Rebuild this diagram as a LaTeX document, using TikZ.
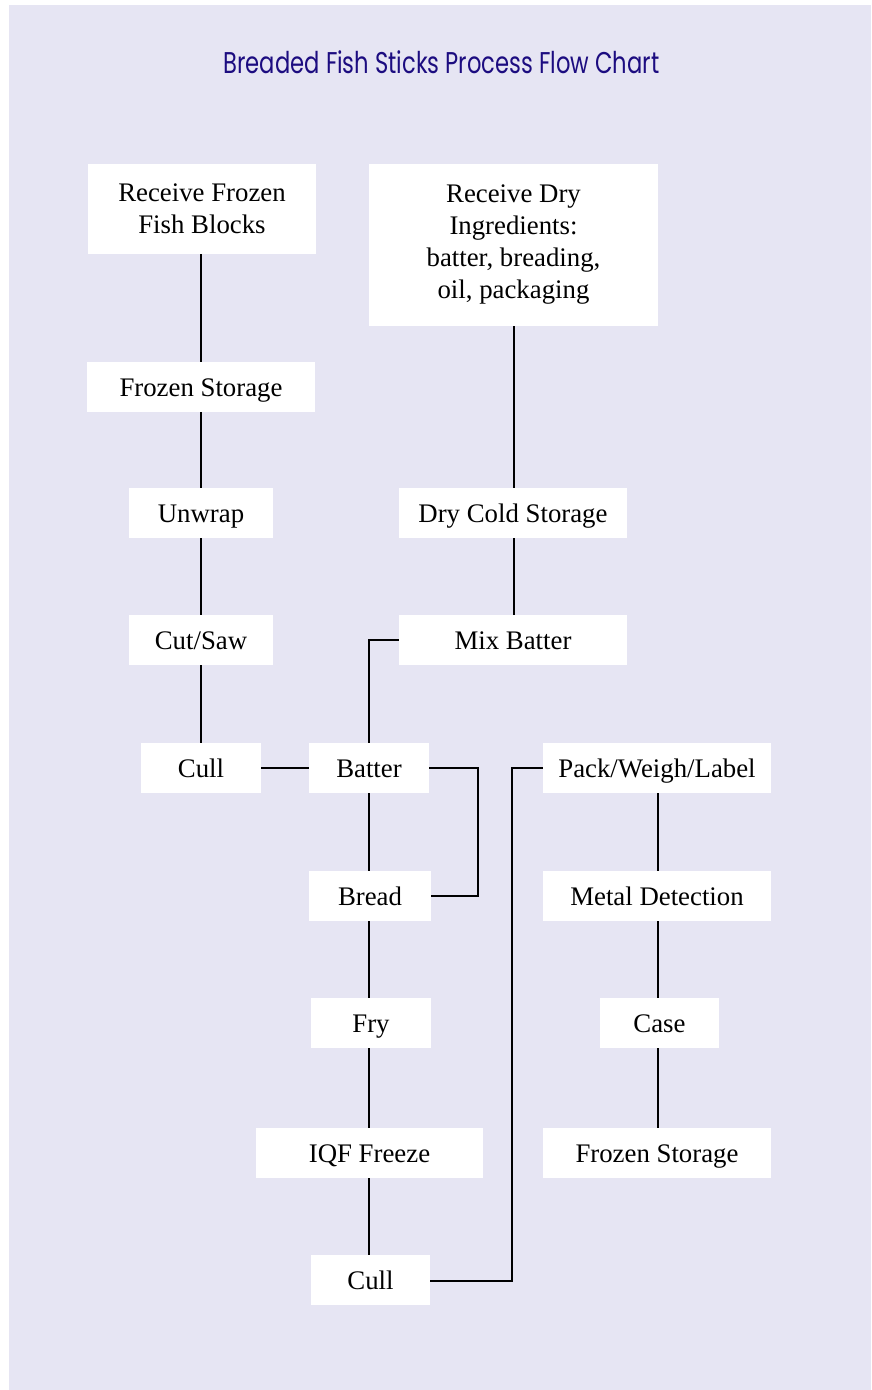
\documentclass[tikz,border=0pt]{standalone}
\usepackage{fontspec}
\setmainfont{Liberation Serif}
\newfontfamily\titlefont{Poppins}
\definecolor{panel}{HTML}{E6E5F3}
\definecolor{titleblue}{HTML}{1C0C80}
\begin{document}
\begin{tikzpicture}[x=1pt,y=-1pt,
  stepbox/.style={fill=white,draw=none,inner sep=0pt,align=center,
    font=\fontsize{26.8}{32}\selectfont,text=black},
  oneline/.style={text height=22pt,text depth=3pt},
  link/.style={draw=black,line width=1.1pt}]
% page and panel
\useasboundingbox (0,0) rectangle (871,1390);
\fill[white] (0,0) rectangle (871,1390);
\fill[panel] (9,5) rectangle (871,1390);
\node[anchor=base,inner sep=0pt,font=\titlefont\fontsize{30}{36}\selectfont,text=titleblue] (title) at (441.5,73)
  {\scalebox{0.755}[1]{Breaded Fish Sticks Process Flow Chart}};
% left column: fish
\node[stepbox,minimum width=228,minimum height=90] (rcv) at (202,209) {Receive Frozen\\Fish Blocks};
\node[stepbox,oneline,minimum width=228,minimum height=50] (fstore) at (201,387) {Frozen Storage};
\node[stepbox,oneline,minimum width=144,minimum height=50] (unwrap) at (201,513) {Unwrap};
\node[stepbox,oneline,minimum width=144,minimum height=50] (cut) at (201,640) {Cut/Saw};
\node[stepbox,oneline,minimum width=120,minimum height=50] (cull) at (201,768) {Cull};
% dry ingredients
\node[stepbox,minimum width=289,minimum height=162] (dry) at (513.5,245) {Receive Dry\\Ingredients:\\batter, breading,\\oil, packaging};
\node[stepbox,oneline,minimum width=228,minimum height=50] (dcs) at (513,513) {Dry Cold Storage};
\node[stepbox,oneline,minimum width=228,minimum height=50] (mix) at (513,640) {Mix Batter};
% centre column
\node[stepbox,oneline,minimum width=120,minimum height=50] (batter) at (369,768) {Batter};
\node[stepbox,oneline,minimum width=122,minimum height=50] (bread) at (370,896) {Bread};
\node[stepbox,oneline,minimum width=120,minimum height=50] (fry) at (371,1023) {Fry};
\node[stepbox,oneline,minimum width=227,minimum height=50] (iqf) at (369.5,1153) {IQF Freeze};
\node[stepbox,oneline,minimum width=119,minimum height=50] (cull2) at (370.5,1280) {Cull};
% right column: packing
\node[stepbox,oneline,minimum width=228,minimum height=50] (pack) at (657,768) {Pack/Weigh/Label};
\node[stepbox,oneline,minimum width=228,minimum height=50] (metal) at (657,896) {Metal Detection};
\node[stepbox,oneline,minimum width=119,minimum height=50] (case) at (659.5,1023) {Case};
\node[stepbox,oneline,minimum width=228,minimum height=50] (fstore2) at (657,1153) {Frozen Storage};
% bends
\coordinate (jb) at (478,768);
\coordinate (jc) at (512,1281);
% connectors
\draw[link] (rcv.south -| 201,0) -- (fstore.north);
\draw[link] (fstore) -- (unwrap);
\draw[link] (unwrap) -- (cut);
\draw[link] (cut) -- (cull);
\draw[link] (cull) -- (batter);
\draw[link] (dry.south -| 514,0) -- (dcs.north -| 514,0);
\draw[link] (dcs.south -| 514,0) -- (mix.north -| 514,0);
\draw[link] (mix.west) -| (batter.north -| 369,0);
\draw[link] (batter.east) -- (jb) |- (bread.east);
\draw[link] (batter.south -| 369,0) -- (bread.north -| 369,0);
\draw[link] (bread.south -| 369,0) -- (fry.north -| 369,0);
\draw[link] (fry.south -| 369,0) -- (iqf.north -| 369,0);
\draw[link] (iqf.south -| 369,0) -- (cull2.north -| 369,0);
\draw[link] (cull2.east |- jc) -- (jc) |- (pack.west);
\draw[link] (pack.south -| 658,0) -- (metal.north -| 658,0);
\draw[link] (metal.south -| 658,0) -- (case.north -| 658,0);
\draw[link] (case.south -| 658,0) -- (fstore2.north -| 658,0);
\end{tikzpicture}
\end{document}
